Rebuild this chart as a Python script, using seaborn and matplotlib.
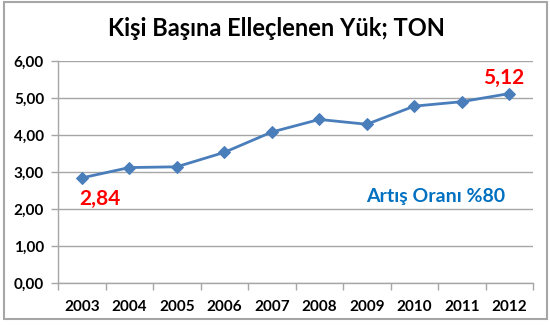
import matplotlib
matplotlib.use("Agg")
import matplotlib.pyplot as plt
from matplotlib.patches import Rectangle
import seaborn as sns
import pandas as pd
import numpy as np

years = ["2003", "2004", "2005", "2006", "2007", "2008", "2009", "2010", "2011", "2012"]
values = [2.84, 3.12, 3.14, 3.53, 4.08, 4.42, 4.29, 4.78, 4.90, 5.12]
yticks = [0, 1, 2, 3, 4, 5, 6]
ytick_labels = ["0,00", "1,00", "2,00", "3,00", "4,00", "5,00", "6,00"]
title = "Kişi Başına Elleçlenen Yük; TON"
first_label = "2,84"
last_label = "5,12"
note = "Artış Oranı %80"

sns.set_theme(style="white")
plt.rcParams["font.family"] = ["Lato", "DejaVu Sans"]

df = pd.DataFrame({"pos": np.arange(len(years)), "value": values})

fig = plt.figure(figsize=(5.5, 3.25), dpi=100)
ax = fig.add_axes([58/550, 1 - 283/325, (533-58)/550, (283-61)/325])

sns.lineplot(data=df, x="pos", y="value", ax=ax, color="#4A7EBB", linewidth=2,
             marker="D", markersize=6, markeredgecolor="#4A7EBB", markerfacecolor="#4A7EBB")

ax.set_xlim(-0.5, len(years) - 0.5)
ax.set_ylim(0, 6)
ax.set_yticks(yticks)
ax.set_yticklabels(ytick_labels, fontsize=11, fontweight="bold", color="black")
ax.yaxis.grid(True, color="#A6A6A6", linewidth=1)
ax.set_axisbelow(True)

ax.set_xticks(np.arange(len(years)))
ax.set_xticklabels(years, fontsize=11, fontweight="bold", color="black")
ax.set_xticks(np.arange(len(years) + 1) - 0.5, minor=True)
ax.tick_params(axis="x", which="major", length=0, pad=12)
ax.tick_params(axis="x", which="minor", length=5, width=1, color="#A6A6A6", direction="out", bottom=True)
ax.tick_params(axis="y", length=5, width=1, color="#A6A6A6", direction="out", left=True, pad=5)
ax.set_xlabel("")
ax.set_ylabel("")

for s in ["top", "right"]:
    ax.spines[s].set_visible(False)
for s in ["left", "bottom"]:
    ax.spines[s].set_color("#A6A6A6")
    ax.spines[s].set_linewidth(1)

ax.text(0.38, 2.27, first_label, color="#FF0000", fontsize=15, fontweight="bold",
        ha="center", va="center")
ax.text(8.88, 5.55, last_label, color="#FF0000", fontsize=15,
        fontweight="bold", ha="center", va="center")
ax.text(8.91, 2.34, note, color="#0070C0", fontsize=14, fontweight="bold",
        ha="right", va="center")

fig.text(276/550, 1 - 29/325, title, fontsize=17, fontweight="bold", color="black",
         ha="center", va="center")

fig.patches.append(Rectangle((4/550, 1 - 319/325), (547-4)/550, (319-2)/325,
                             transform=fig.transFigure, fill=False,
                             edgecolor="#A6A6A6", linewidth=1.5))

fig.savefig("out.png", dpi=100)
